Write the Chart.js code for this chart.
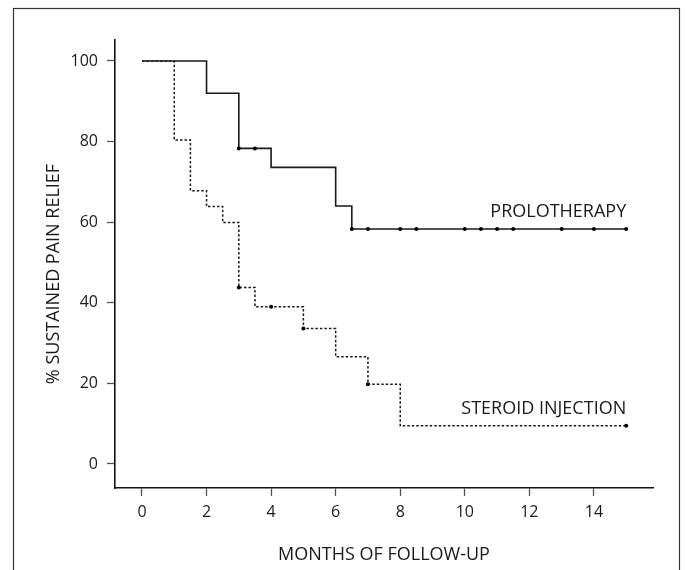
<!DOCTYPE html>
<html>
<head>
<meta charset="utf-8">
<script src="https://cdn.jsdelivr.net/npm/chart.js@4.4.1/dist/chart.umd.min.js"></script>
<style>
  html, body { margin: 0; padding: 0; background: #fff; }
  #wrap { position: relative; width: 686px; height: 570px; }
</style>
</head>
<body>
<div id="wrap"><canvas id="km-chart" width="686" height="570"></canvas></div>
<script>
// Kaplan-Meier steps (month where the level starts, % still relieved)
const proloMonths = [0, 2, 3, 4, 6, 6.5, 15];
const proloSurvival = [100, 92, 78.3, 73.6, 64, 58.3, 58.3];
const steroidMonths = [0, 1, 1.5, 2, 2.5, 3, 3.5, 5, 6, 7, 8, 15];
const steroidSurvival = [100, 80.4, 67.8, 63.9, 59.9, 43.8, 39.0, 33.6, 26.6, 19.8, 9.5, 9.5];

// censored observations (dots)
const proloCensorMonths = [3, 3.5, 6.5, 7, 8, 8.5, 10, 10.5, 11, 11.5, 13, 14, 15];
const proloCensorValues = [78.3, 78.3, 58.3, 58.3, 58.3, 58.3, 58.3, 58.3, 58.3, 58.3, 58.3, 58.3, 58.3];
const steroidCensorMonths = [3, 4, 5, 7, 15];
const steroidCensorValues = [43.8, 39.0, 33.6, 19.8, 9.5];

const xTicks = [0, 2, 4, 6, 8, 10, 12, 14];
const yTicks = [0, 20, 40, 60, 80, 100];

const seriesNames = ['PROLOTHERAPY', 'STEROID INJECTION'];
const xTitle = 'MONTHS OF FOLLOW-UP';
const yTitle = '% SUSTAINED PAIN RELIEF';

const FONT = '"Open Sans", "Noto Sans", sans-serif';
const INK = '#1a1a1a';

function toPoints(xs, ys) {
  return xs.map((x, i) => ({ x: x, y: ys[i] }));
}

// frame + titles + curve labels
const decorations = {
  id: 'decorations',
  beforeDraw(chart) {
    const ctx = chart.ctx;
    ctx.save();
    ctx.strokeStyle = '#333';
    ctx.lineWidth = 1.2;
    ctx.strokeRect(13.5, 8.5, 666, 620);
    ctx.restore();
  },
  afterDraw(chart) {
    const ctx = chart.ctx;
    const xs = chart.scales.x;
    const ys = chart.scales.y;
    ctx.save();
    ctx.fillStyle = INK;
    ctx.font = '18px ' + FONT;
    ctx.textBaseline = 'middle';

    ctx.textAlign = 'center';
    ctx.fillText(xTitle, (chart.chartArea.left + chart.chartArea.right) / 2, 555);

    ctx.save();
    ctx.translate(54, 274);
    ctx.rotate(-Math.PI / 2);
    ctx.fillText(yTitle, 0, 0);
    ctx.restore();

    // curve names, right aligned at the last month, just above each tail
    ctx.textAlign = 'right';
    const lastX = xs.getPixelForValue(proloMonths[proloMonths.length - 1]);
    ctx.fillText(seriesNames[0], lastX, ys.getPixelForValue(proloSurvival[proloSurvival.length - 1]) - 17);
    ctx.fillText(seriesNames[1], lastX, ys.getPixelForValue(steroidSurvival[steroidSurvival.length - 1]) - 17);
    ctx.restore();
  }
};

function renderChart() {
  const ctx = document.getElementById('km-chart').getContext('2d');
  new Chart(ctx, {
    type: 'line',
    data: {
      datasets: [
        {
          label: 'prolo censored',
          data: toPoints(proloCensorMonths, proloCensorValues),
          showLine: false,
          pointRadius: 2,
          pointBackgroundColor: '#000',
          pointBorderWidth: 0,
        },
        {
          label: 'steroid censored',
          data: toPoints(steroidCensorMonths, steroidCensorValues),
          showLine: false,
          pointRadius: 2,
          pointBackgroundColor: '#000',
          pointBorderWidth: 0,
        },
        {
          // solid curve sits above the dotted one where they overlap
          label: seriesNames[0],
          data: toPoints(proloMonths, proloSurvival),
          stepped: 'before',
          borderColor: INK,
          borderWidth: 1.6,
          pointRadius: 0,
          fill: false,
        },
        {
          label: seriesNames[1],
          data: toPoints(steroidMonths, steroidSurvival),
          stepped: 'before',
          borderColor: INK,
          borderWidth: 1.5,
          borderDash: [2.5, 2],
          pointRadius: 0,
          fill: false,
        },
      ],
    },
    options: {
      responsive: false,
      animation: false,
      layout: { padding: { left: 0, top: 40, right: 33, bottom: 0 } },
      scales: {
        x: {
          type: 'linear',
          min: -0.836,
          max: 15.83,
          afterFit: (scale) => { scale.height = 82; },
          afterBuildTicks: (scale) => { scale.ticks = xTicks.map((v) => ({ value: v })); },
          grid: { drawOnChartArea: false, drawTicks: true, tickLength: 8, tickColor: '#555', tickWidth: 1.3 },
          border: { display: true, color: '#111', width: 1.6 },
          ticks: { color: INK, padding: 7, font: { family: FONT, size: 16 } },
        },
        y: {
          min: -5.96,
          max: 105.2,
          afterFit: (scale) => { scale.width = 115; },
          afterBuildTicks: (scale) => { scale.ticks = yTicks.map((v) => ({ value: v })); },
          grid: { drawOnChartArea: false, drawTicks: true, tickLength: 8, tickColor: '#555', tickWidth: 1.3 },
          border: { display: true, color: '#111', width: 1.6 },
          ticks: { color: INK, padding: 9, font: { family: FONT, size: 16 } },
        },
      },
      plugins: {
        legend: { display: false },
        tooltip: { enabled: false },
      },
    },
    plugins: [decorations],
  });
}

renderChart();
</script>
</body>
</html>
